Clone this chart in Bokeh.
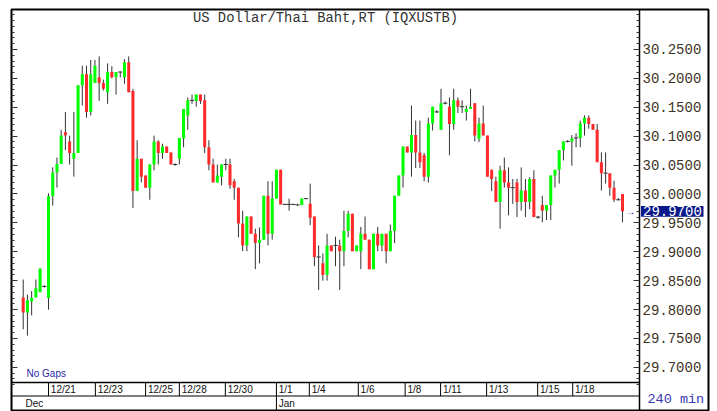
from bokeh.plotting import figure
from bokeh.models import (Range1d, LinearAxis, FixedTicker, PrintfTickFormatter,
                          CustomJSTickFormatter, Label, ColumnDataSource)
from bokeh.embed import file_html
from bokeh.resources import INLINE
from bokeh.core.properties import value

# ---------------- data ----------------
title_text = "US Dollar/Thai Baht,RT (IQXUSTB)"
interval_text = "240 min"
gap_text = "No Gaps"

opens = [29.821, 29.795, 29.814, 29.821, 29.830, 29.840, 29.820, 29.996, 30.037, 30.052,
         30.107, 30.091, 30.061, 30.071, 30.188, 30.207, 30.142, 30.192, 30.202, 30.192,
         30.176, 30.211, 30.202, 30.211, 30.202, 30.228, 30.178, 30.005, 30.061, 30.032,
         30.011, 30.051, 30.091, 30.071, 30.082, 30.072, 30.051, 30.061, 30.096, 30.136,
         30.162, 30.161, 30.172, 30.162, 30.081, 30.051, 30.020, 30.030, 30.051, 30.051,
         30.022, 30.011, 29.949, 29.911, 29.961, 29.931, 29.915, 29.921, 29.997, 29.931,
         29.992, 30.042, 29.982, 29.982, 29.982, 29.981, 29.981, 29.992, 29.983, 29.961,
         29.891, 29.880, 29.860, 29.911, 29.911, 29.911, 29.901, 29.936, 29.966, 29.901,
         29.901, 29.931, 29.921, 29.870, 29.931, 29.911, 29.931, 29.901, 29.936, 29.997,
         30.032, 30.082, 30.072, 30.102, 30.072, 30.067, 30.030, 30.122, 30.142, 30.111,
         30.157, 30.151, 30.121, 30.162, 30.151, 30.142, 30.147, 30.157, 30.095, 30.122,
         30.101, 30.042, 30.022, 29.986, 30.041, 30.020, 30.011, 30.020, 29.986, 30.006,
         29.986, 30.026, 29.960, 29.981, 29.971, 29.981, 30.032, 30.042, 30.076, 30.091,
         30.091, 30.097, 30.097, 30.122, 30.132, 30.121, 30.111, 30.055, 30.036, 30.036,
         30.011, 29.990, 30.000]
highs = [29.852, 29.826, 29.832, 29.852, 29.871, 29.842, 30.001, 30.046, 30.063, 30.111,
         30.142, 30.101, 30.142, 30.188, 30.222, 30.222, 30.232, 30.232, 30.238, 30.198,
         30.226, 30.221, 30.211, 30.212, 30.233, 30.238, 30.182, 30.093, 30.061, 30.032,
         30.051, 30.101, 30.093, 30.087, 30.082, 30.072, 30.053, 30.097, 30.147, 30.167,
         30.172, 30.172, 30.172, 30.172, 30.093, 30.061, 30.051, 30.051, 30.061, 30.061,
         30.026, 30.011, 29.971, 29.961, 29.961, 29.940, 29.942, 29.997, 30.022, 30.022,
         30.042, 30.042, 29.983, 29.992, 29.983, 29.983, 29.992, 29.993, 30.018, 29.961,
         29.911, 29.897, 29.931, 29.911, 29.926, 29.921, 29.971, 29.971, 29.966, 29.911,
         29.943, 29.961, 29.921, 29.931, 29.943, 29.931, 29.931, 29.947, 29.997, 30.032,
         30.082, 30.082, 30.153, 30.127, 30.127, 30.071, 30.132, 30.151, 30.145, 30.182,
         30.160, 30.167, 30.182, 30.167, 30.162, 30.153, 30.182, 30.157, 30.132, 30.153,
         30.101, 30.042, 30.030, 30.049, 30.063, 30.046, 30.026, 30.026, 30.046, 30.026,
         30.029, 30.041, 29.962, 29.997, 29.981, 30.032, 30.042, 30.076, 30.091, 30.093,
         30.102, 30.105, 30.127, 30.136, 30.136, 30.121, 30.121, 30.072, 30.072, 30.036,
         30.023, 29.993, 30.000]
lows = [29.766, 29.755, 29.790, 29.821, 29.830, 29.838, 29.800, 29.980, 30.011, 30.052,
        30.076, 30.051, 30.030, 30.071, 30.153, 30.132, 30.136, 30.192, 30.161, 30.179,
        30.156, 30.200, 30.172, 30.202, 30.191, 30.176, 29.976, 30.005, 30.020, 30.011,
        29.990, 30.041, 30.051, 30.061, 30.071, 30.051, 30.049, 30.051, 30.081, 30.111,
        30.156, 30.151, 30.156, 30.071, 30.041, 30.020, 30.020, 30.015, 30.041, 30.009,
        29.990, 29.925, 29.901, 29.901, 29.931, 29.870, 29.880, 29.921, 29.911, 29.921,
        29.992, 29.982, 29.981, 29.971, 29.981, 29.980, 29.981, 29.991, 29.946, 29.875,
        29.834, 29.850, 29.850, 29.901, 29.875, 29.834, 29.875, 29.925, 29.901, 29.901,
        29.870, 29.921, 29.870, 29.870, 29.901, 29.901, 29.880, 29.901, 29.915, 29.997,
        30.011, 30.072, 30.030, 30.045, 30.045, 30.022, 30.020, 30.110, 30.140, 30.111,
        30.155, 30.067, 30.111, 30.140, 30.140, 30.127, 30.147, 30.091, 30.090, 30.101,
        30.030, 30.005, 29.986, 29.940, 30.011, 29.963, 29.983, 29.960, 29.971, 29.960,
        29.974, 29.960, 29.957, 29.951, 29.955, 29.955, 30.011, 30.018, 30.058, 30.089,
        30.049, 30.081, 30.081, 30.101, 30.113, 30.111, 30.055, 30.006, 30.018, 29.997,
        29.986, 29.989, 29.951]
closes = [29.795, 29.816, 29.820, 29.837, 29.871, 29.840, 29.996, 30.037, 30.052, 30.101,
          30.101, 30.071, 30.071, 30.188, 30.207, 30.142, 30.207, 30.222, 30.192, 30.182,
          30.211, 30.202, 30.211, 30.211, 30.228, 30.176, 30.005, 30.061, 30.030, 30.011,
          30.051, 30.091, 30.071, 30.082, 30.071, 30.051, 30.051, 30.097, 30.147, 30.162,
          30.162, 30.172, 30.161, 30.081, 30.051, 30.020, 30.032, 30.051, 30.051, 30.015,
          30.011, 29.949, 29.911, 29.961, 29.931, 29.915, 29.921, 29.997, 29.931, 29.992,
          30.042, 29.982, 29.982, 29.982, 29.982, 29.981, 29.992, 29.992, 29.959, 29.891,
          29.891, 29.860, 29.911, 29.901, 29.911, 29.901, 29.936, 29.966, 29.901, 29.911,
          29.931, 29.921, 29.870, 29.931, 29.911, 29.931, 29.901, 29.936, 29.997, 30.032,
          30.082, 30.072, 30.102, 30.072, 30.055, 30.030, 30.122, 30.151, 30.142, 30.157,
          30.157, 30.121, 30.162, 30.151, 30.151, 30.147, 30.151, 30.101, 30.122, 30.101,
          30.030, 30.026, 29.986, 30.041, 30.020, 30.011, 30.011, 29.986, 30.006, 29.986,
          30.026, 29.960, 29.960, 29.971, 29.981, 30.032, 30.042, 30.076, 30.091, 30.091,
          30.096, 30.097, 30.122, 30.132, 30.121, 30.111, 30.055, 30.036, 30.036, 30.011,
          29.990, 29.990, 29.970]

# day boundaries, in candle-index units
day_labels = ["12/21", "12/23", "12/25", "12/28", "12/30", "1/1", "1/4",
              "1/6", "1/8", "1/11", "1/13", "1/15", "1/18"]
day_starts = [6.0, 17.1, 29.0, 37.0, 47.9, 60.0, 67.8, 79.4, 90.5, 98.9, 109.8, 121.9, 130.2]
month_labels = ["Dec", "Jan"]
month_starts = [0.0, 60.0]

price_ticks = [29.70, 29.75, 29.80, 29.85, 29.90, 29.95, 30.00,
               30.05, 30.10, 30.15, 30.20, 30.25]

# ---------------- layout helpers (page pixel -> data) ----------------
FL, FR, FT, FB = 11, 708, 9, 410          # outer frame edges in page pixels
AXPX = 639                                 # price-axis line position in pixels
STEP = 4.2204                              # pixels per candle
X0 = (FL - 22.7) / STEP
X1 = (FR - 22.7) / STEP
Y0, Y1 = 29.6254, 30.3192


def dx(px):
    return X0 + (px - FL) * (X1 - X0) / (FR - FL)


def dy(py):
    return Y1 - (py - FT) * (Y1 - Y0) / (FB - FT)


AX = dx(AXPX)

n = len(opens)
assert n == len(highs) == len(lows) == len(closes)
idx = list(range(n))

GREEN = "#00ff00"
RED = "#ff2b2b"
WICK = "#333333"

body = {"x": [], "top": [], "bottom": [], "color": []}
doji = {"x0": [], "x1": [], "y": []}
for i, o, c in zip(idx, opens, closes):
    if c > o:
        body["x"].append(i); body["top"].append(c); body["bottom"].append(o); body["color"].append(GREEN)
    elif c < o:
        body["x"].append(i); body["top"].append(o); body["bottom"].append(c); body["color"].append(RED)
    else:
        doji["x0"].append(i - 0.5); doji["x1"].append(i + 0.5); doji["y"].append(o)

p = figure(width=717, height=411,
           x_range=Range1d(X0, X1), y_range=Range1d(Y0, Y1),
           output_backend="svg", toolbar_location=None,
           x_axis_location=None, y_axis_location=None,
           min_border_left=FL, min_border_right=717 - FR,
           min_border_top=FT, min_border_bottom=411 - FB,
           background_fill_color="white", border_fill_color="white",
           outline_line_color="black", outline_line_width=2)
p.xgrid.visible = False
p.ygrid.visible = False

minor = [round(29.67 + 0.01 * k, 2) for k in range(66)]
mono = "Liberation Mono"
sans = "Liberation Sans"

# price axis: a real axis, pinned at the price-panel boundary
yr = LinearAxis(ticker=FixedTicker(ticks=price_ticks, minor_ticks=minor),
                formatter=PrintfTickFormatter(format="%.4f"),
                fixed_location=AX,
                major_tick_in=6, major_tick_out=0, minor_tick_in=3, minor_tick_out=0,
                major_label_standoff=3,
                major_label_text_font=mono, major_label_text_font_size="14px",
                major_label_text_color="#3d3326",
                axis_line_color="black", axis_line_width=1.5,
                major_tick_line_color="#333333", minor_tick_line_color="#333333")
p.add_layout(yr, "right")

yl = LinearAxis(ticker=FixedTicker(ticks=price_ticks, minor_ticks=minor),
                formatter=CustomJSTickFormatter(code="return ''"),
                major_tick_in=6, major_tick_out=0, minor_tick_in=3, minor_tick_out=0,
                major_label_standoff=0,
                axis_line_color="black", axis_line_width=1,
                major_tick_line_color="#333333", minor_tick_line_color="#333333")
p.add_layout(yl, "left")

# candles
p.segment(x0=idx, x1=idx, y0=lows, y1=highs, line_color=WICK, line_width=1)
p.vbar(x="x", top="top", bottom="bottom", width=0.72, fill_color="color",
       line_color=None, source=ColumnDataSource(body))
p.segment(x0="x0", x1="x1", y0="y", y1="y", line_color=WICK, line_width=1,
          source=ColumnDataSource(doji))

# date band (below the price area, left of the price axis)
p.segment(x0=[X0, X0], x1=[AX, AX], y0=[dy(382), dy(395.5)], y1=[dy(382), dy(395.5)],
          line_color="black", line_width=[1.5, 1])
p.segment(x0=day_starts, x1=day_starts, y0=[dy(382)] * len(day_starts),
          y1=[dy(395.5)] * len(day_starts), line_color="black", line_width=1)
p.text(x=[s + 0.55 for s in day_starts], y=[dy(389)] * len(day_starts), text=day_labels,
       text_font=value(sans), text_font_size="10px", text_color="#111111",
       text_align="left", text_baseline="middle")
p.segment(x0=month_starts[1:], x1=month_starts[1:], y0=[dy(395.5)] * (len(month_starts) - 1),
          y1=[Y0] * (len(month_starts) - 1), line_color="black", line_width=1)
p.text(x=[s + 0.55 for s in month_starts], y=[dy(402.5)] * len(month_starts), text=month_labels,
       text_font=value(sans), text_font_size="10px", text_color="#111111",
       text_align="left", text_baseline="middle")

# title & notes
p.add_layout(Label(x=dx(325), y=dy(17.5), text=title_text, text_align="center",
                   text_baseline="middle", text_font=mono, text_font_size="13.8px",
                   text_color="#333333"))
p.add_layout(Label(x=dx(26), y=dy(373), text=gap_text, text_align="left",
                   text_baseline="middle", text_font=sans, text_font_size="10px",
                   text_color="#2a2aa8"))

# last price marker in the price panel
last = closes[-1]
p.quad(left=[dx(640.5)], right=[dx(703)], top=[dy(205.5)], bottom=[dy(216.3)],
       fill_color="#0b1a8a", line_color=None, level="overlay")
p.add_layout(Label(x=dx(642.5), y=last, text=f"{last:.4f}", text_align="left",
                   text_baseline="middle", text_font=mono, text_font_size="14px",
                   text_color="white", level="overlay"))
p.text(x=[dx(630)], y=[last], text=["\u2192"], text_font_size="10px",
       text_color="#2020c0", text_align="center", text_baseline="middle")
p.add_layout(Label(x=dx(647), y=dy(399), text=interval_text, text_align="left",
                   text_baseline="middle", text_font=mono, text_font_size="13.5px",
                   text_color="#3838b0"))

open("out.html", "w").write(file_html(p, INLINE))
